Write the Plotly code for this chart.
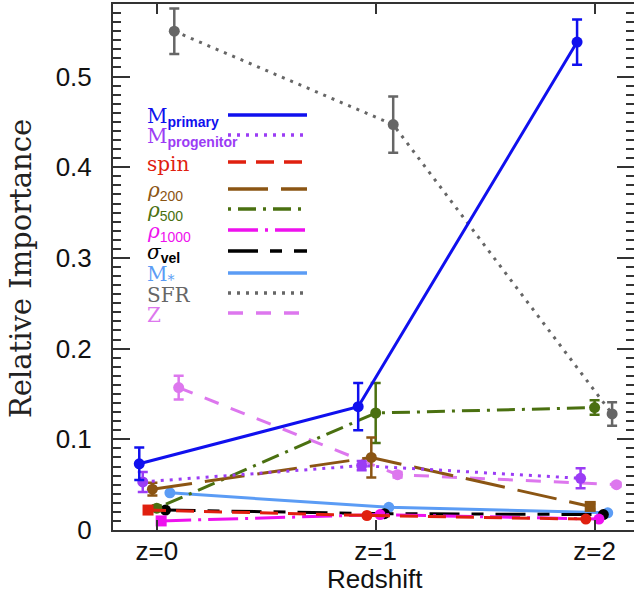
import plotly.graph_objects as go

# ---------------- data ----------------
redshift = [0, 1, 2]
tick_labels = ["z=0", "z=1", "z=2"]

m_primary = [0.073, 0.136, 0.538]
m_primary_err = [0.018, 0.026, 0.025]
m_progenitor = [0.053, 0.071, 0.057]
m_progenitor_err = [0.011, 0.005, 0.011]
spin = [0.022, 0.016, 0.012]
rho200 = [0.045, 0.080, 0.026]
rho200_err = [0.007, 0.022, 0.003]
rho500 = [0.024, 0.129, 0.135]
rho500_err = [0.003, 0.033, 0.008]
rho1000 = [0.010, 0.017, 0.012]
sigma_vel = [0.022, 0.018, 0.017]
m_star = [0.041, 0.025, 0.019]
sfr = [0.550, 0.447, 0.128]
sfr_err = [0.025, 0.031, 0.013]
metal_z = [0.157, 0.061, 0.050]
metal_z_err = [0.013, 0.003, 0.002]

# ---------------- styles ----------------
SANS = "Liberation Sans"
SERIF = "DejaVu Serif"

W, H = 634, 597
L, R, T, B = 113, 0, 4, 67
PW, PH = W - L - R, H - T - B


def px(x):
    return (x - L) / PW


def py(y):
    return (H - B - y) / PH


series = [
    # (name, values, errors, color, dash, x-offset, symbols, legend label, legend row y)
    ("M_primary", m_primary, m_primary_err, "#1010EE", "solid", -0.08, None,
     'M<sub><b><span style="font-family:Liberation Sans">primary</span></b></sub>', 115),
    ("M_progenitor", m_progenitor, m_progenitor_err, "#9B3CF5", "3px,6px", -0.064, None,
     'M<sub><b><span style="font-family:Liberation Sans">progenitor</span></b></sub>', 135),
    ("spin", spin, None, "#E0200F", "18px,10px", -0.04, ["square", "circle", "circle"],
     'spin', 162),
    ("rho200", rho200, rho200_err, "#8B5513", "40px,13px", -0.02, ["circle", "circle", "square"],
     '<i>ρ</i><sub><span style="font-family:Liberation Sans">200</span></sub>', 189),
    ("rho500", rho500, rho500_err, "#4A7010", "3px,7px,18px,7px", 0.0, None,
     '<i>ρ</i><sub><span style="font-family:Liberation Sans">500</span></sub>', 209),
    ("rho1000", rho1000, None, "#EE11EE", "30px,7px,3px,7px", 0.02, ["square", "circle", "circle"],
     '<i>ρ</i><sub><span style="font-family:Liberation Sans">1000</span></sub>', 230),
    ("sigma_vel", sigma_vel, None, "#000000", "30px,12px,12px,12px", 0.04, None,
     '<i>σ</i><sub><b><span style="font-family:Liberation Sans">vel</span></b></sub>', 251),
    ("M_star", m_star, None, "#5B9CF5", "solid", 0.06, None,
     'M<sub>*</sub>', 273),
    ("SFR", sfr, sfr_err, "#666666", "3px,6px", 0.08, None,
     'SFR', 293),
    ("Z", metal_z, metal_z_err, "#DD77EE", "15px,13px", 0.10, None,
     'Z', 313),
]

fig = go.Figure()

draw_order = [9, 8, 7, 6, 5, 4, 3, 2, 1, 0]
for i in draw_order:
    name, vals, errs, color, dash, off, syms, label, ly = series[i]
    xs = [z + off for z in redshift]
    err = dict(type="data", array=errs, thickness=2.5, width=5, color=color) \
        if errs is not None else dict(visible=False)
    fig.add_trace(go.Scatter(
        x=xs, y=vals, mode="lines+markers", name=name,
        line=dict(color=color, width=3, dash=dash),
        marker=dict(color=color, size=11, symbol=syms if syms else "circle"),
        error_y=err, showlegend=False,
    ))

# custom legend (text on left, line sample on right)
annotations = []
shapes = []
for name, vals, errs, color, dash, off, syms, label, ly in series:
    annotations.append(dict(
        x=px(145), y=py(ly + 2), xref="paper", yref="paper",
        text=label, showarrow=False, xanchor="left", yanchor="middle",
        font=dict(family=SERIF, size=20, color=color),
    ))
    shapes.append(dict(
        type="line", xref="paper", yref="paper",
        x0=px(228), x1=px(307), y0=py(ly), y1=py(ly),
        line=dict(color=color, width=3.5, dash=dash),
    ))

annotations.append(dict(
    x=px(21), y=py(269), xref="paper", yref="paper", text="Relative Importance",
    textangle=-90, showarrow=False, xanchor="center", yanchor="middle",
    font=dict(family=SERIF, size=29, color="#222222"),
))
annotations.append(dict(
    x=px(375), y=py(579), xref="paper", yref="paper", text="Redshift",
    showarrow=False, xanchor="center", yanchor="middle",
    font=dict(family=SANS, size=26, color="#111111"),
))

fig.update_layout(
    width=W, height=H,
    margin=dict(l=L, r=R, t=T, b=B, pad=0, autoexpand=False),
    plot_bgcolor="white", paper_bgcolor="white",
    annotations=annotations, shapes=shapes,
    showlegend=False,
)

fig.update_xaxes(
    range=[-0.2, 2.18], tickvals=redshift, ticktext=tick_labels,
    ticks="inside", ticklen=10, tickwidth=1.5, tickcolor="#333333",
    showline=True, linecolor="#333333", linewidth=2, mirror="ticks",
    showgrid=False, zeroline=False, automargin=False,
    tickfont=dict(family=SANS, size=26, color="#111111"),
    ticklabelstandoff=-3,
)
fig.update_yaxes(
    range=[0, 0.58], dtick=0.1, tick0=0,
    ticks="inside", ticklen=17, tickwidth=1.5, tickcolor="#333333",
    minor=dict(dtick=0.01, ticks="inside", ticklen=8, tickwidth=1.5, tickcolor="#333333"),
    showline=True, linecolor="#333333", linewidth=2, mirror="ticks",
    showgrid=False, zeroline=False, automargin=False,
    tickfont=dict(family=SANS, size=26, color="#111111"),
    ticklabelstandoff=14,
)

fig.write_html(
    "out.html",
    config={"displayModeBar": False},
    post_script="document.body.style.margin='0';document.body.style.overflow='hidden';",
)
